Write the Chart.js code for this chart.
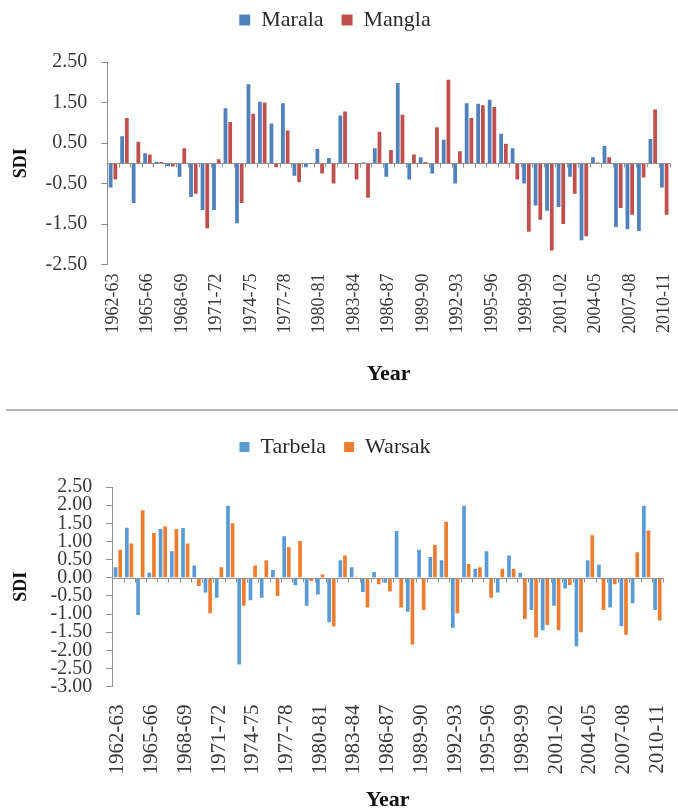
<!DOCTYPE html>
<html>
<head>
<meta charset="utf-8">
<script src="https://cdn.jsdelivr.net/npm/chart.js@4.4.1/dist/chart.umd.min.js"></script>
<style>
    html, body { margin: 0; padding: 0; background: #fff; }
    body { width: 678px; height: 809px; position: relative; overflow: hidden; }
    .box { position: absolute; left: 0; width: 678px; }
    #topBox { top: -9px; height: 414px; }
    #bottomBox { top: 412px; height: 402px; }
    #rule { position: absolute; left: 6px; width: 672px; top: 409px; border-top: 2px solid #b4b4b4; }
</style>
</head>
<body>
<div class="box" id="topBox"><canvas id="chartTop"></canvas></div>
<div id="rule"></div>
<div class="box" id="bottomBox"><canvas id="chartBottom"></canvas></div>

<script>
// categories (hydrological years)
const years = [
    '1962-63', '1963-64', '1964-65', '1965-66', '1966-67', '1967-68', '1968-69',
    '1969-70', '1970-71', '1971-72', '1972-73', '1973-74', '1974-75', '1975-76',
    '1976-77', '1977-78', '1978-79', '1979-80', '1980-81', '1981-82', '1982-83',
    '1983-84', '1984-85', '1985-86', '1986-87', '1987-88', '1988-89', '1989-90',
    '1990-91', '1991-92', '1992-93', '1993-94', '1994-95', '1995-96', '1996-97',
    '1997-98', '1998-99', '1999-00', '2000-01', '2001-02', '2002-03', '2003-04',
    '2004-05', '2005-06', '2006-07', '2007-08', '2008-09', '2009-10', '2010-11'
];
// only these year labels are printed under the axis
const shownYears = [
    '1962-63', '1965-66', '1968-69', '1971-72', '1974-75', '1977-78', '1980-81',
    '1983-84', '1986-87', '1989-90', '1992-93', '1995-96', '1998-99', '2001-02',
    '2004-05', '2007-08', '2010-11'
];

// SDI values
const marala = [
    -0.60, 0.67, -0.98, 0.25, 0.04, -0.07, -0.33, -0.83, -1.15, -1.15,
    1.36, -1.48, 1.95, 1.52, 0.98, 1.48, -0.31, -0.10, 0.35, 0.13,
    1.18, 0.01, 0.02, 0.37, -0.33, 1.98, -0.40, 0.15, -0.25, 0.58,
    -0.50, 1.48, 1.47, 1.57, 0.73, 0.37, -0.50, -1.04, -1.17, -1.08,
    -0.33, -1.90, 0.15, 0.43, -1.57, -1.63, -1.67, 0.60, -0.60
];
const mangla = [
    -0.40, 1.12, 0.53, 0.22, 0.03, -0.08, 0.37, -0.75, -1.60, 0.10,
    1.02, -0.98, 1.22, 1.50, -0.10, 0.81, -0.47, -0.02, -0.25, -0.50,
    1.28, -0.40, -0.85, 0.78, 0.33, 1.20, 0.22, 0.03, 0.89, 2.06,
    0.30, 1.12, 1.43, 1.39, 0.48, -0.40, -1.69, -1.39, -2.15, -1.50,
    -0.75, -1.80, 0.02, 0.15, -1.10, -1.27, -0.35, 1.33, -1.27
];
const tarbela = [
    0.29, 1.38, -1.03, 0.14, 1.34, 0.73, 1.37, 0.34, -0.41, -0.55,
    1.98, -2.39, -0.62, -0.55, 0.21, 1.14, -0.21, -0.77, -0.46, -1.23,
    0.48, 0.29, -0.39, 0.16, -0.14, 1.29, -0.94, 0.77, 0.57, 0.48,
    -1.38, 1.98, 0.25, 0.73, -0.41, 0.61, 0.14, -0.89, -1.45, -0.77,
    -0.30, -1.89, 0.48, 0.36, -0.82, -1.34, -0.70, 1.98, -0.89
];
const warsak = [
    0.77, 0.94, 1.86, 1.23, 1.41, 1.34, 0.94, -0.23, -0.98, 0.29,
    1.50, -0.77, 0.34, 0.48, -0.50, 0.85, 1.01, -0.09, 0.09, -1.34,
    0.61, 0.03, -0.82, -0.18, -0.38, -0.82, -1.84, -0.89, 0.90, 1.54,
    -0.98, 0.38, 0.29, -0.55, 0.25, 0.25, -1.14, -1.65, -1.30, -1.45,
    -0.20, -1.50, 1.17, -0.89, -0.18, -1.57, 0.70, 1.30, -1.18
];

// y axis tick labels
const yTicksTop = [2.5, 1.5, 0.5, -0.5, -1.5, -2.5];
const yTicksBottom = [2.5, 2.0, 1.5, 1.0, 0.5, 0.0, -0.5, -1.0, -1.5, -2.0, -2.5, -3.0];

const serif = "'Liberation Serif', 'DejaVu Serif', serif";
const textColor = '#383838';
const axisColor = '#8f8f8f';

// category axis drawn through zero, with small ticks between the years
const zeroAxis = {
    id: 'zeroAxis',
    afterDatasetsDraw(chart) {
        const { ctx, chartArea, scales: { x, y } } = chart;
        const y0 = Math.round(y.getPixelForValue(0)) + 0.5;
        const step = x.getPixelForValue(1) - x.getPixelForValue(0);
        ctx.save();
        ctx.strokeStyle = axisColor;
        ctx.lineWidth = 1;
        ctx.beginPath();
        ctx.moveTo(chartArea.left, y0);
        ctx.lineTo(chartArea.right, y0);
        for (let i = 0; i <= years.length; i++) {
            const px = Math.round(x.getPixelForValue(i) - step / 2) + 0.5;
            ctx.moveTo(px, y0);
            ctx.lineTo(px, y0 + 4);
        }
        ctx.stroke();
        ctx.restore();
    }
};

// extra room between the legend and the plot
const legendGap = {
    id: 'legendGap',
    beforeInit(chart, args, opts) {
        const fit = chart.legend.fit;
        chart.legend.fit = function () {
            fit.call(this);
            this.height += opts.gap || 0;
        };
    }
};

function makeChart(id, series, yTicks, sizes) {
    return new Chart(document.getElementById(id), {
        type: 'bar',
        data: {
            labels: years,
            datasets: series.map(s => ({
                label: s.name,
                data: s.values,
                backgroundColor: s.color,
                borderWidth: 0,
                barPercentage: 0.8,
                categoryPercentage: 0.82,
            })),
        },
        plugins: [zeroAxis, legendGap],
        options: {
            animation: false,
            maintainAspectRatio: false,
            layout: { padding: { top: sizes.padTop, right: 8, left: 0, bottom: 0 } },
            plugins: {
                tooltip: { enabled: false },
                legendGap: { gap: sizes.gap },
                legend: {
                    position: 'top',
                    labels: {
                        boxWidth: sizes.box,
                        boxHeight: sizes.box,
                        padding: 18,
                        color: '#2a2a2a',
                        font: { family: serif, size: 22 },
                    },
                },
            },
            scales: {
                x: {
                    grid: { display: false },
                    border: { display: false },
                    ticks: {
                        autoSkip: false,
                        maxRotation: 90,
                        minRotation: 90,
                        padding: sizes.xPad,
                        color: textColor,
                        font: { family: serif, size: sizes.xFont, lineHeight: 0.5 },
                        callback: function (v) {
                            const l = this.getLabelForValue(v);
                            return shownYears.includes(l) ? l : '';
                        },
                    },
                    title: {
                        display: true,
                        text: 'Year',
                        color: '#111',
                        font: { family: serif, size: 22, weight: 'bold' },
                        padding: sizes.xTitlePad,
                    },
                },
                y: {
                    min: yTicks[yTicks.length - 1],
                    max: yTicks[0],
                    afterBuildTicks: axis => { axis.ticks = yTicks.map(v => ({ value: v })); },
                    grid: { drawOnChartArea: false, tickLength: 6, tickColor: axisColor },
                    border: { color: axisColor },
                    ticks: {
                        autoSkip: false,
                        padding: 14,
                        color: textColor,
                        font: { family: serif, size: sizes.yFont, lineHeight: 1 },
                        callback: v => v.toFixed(2),
                    },
                    title: {
                        display: true,
                        text: 'SDI',
                        color: '#111',
                        font: { family: serif, size: 18, weight: 'bold' },
                        padding: sizes.yTitlePad,
                    },
                },
            },
        },
    });
}

makeChart('chartTop', [
    { name: 'Marala', values: marala, color: '#4f81bd' },
    { name: 'Mangla', values: mangla, color: '#c0504d' },
], yTicksTop, {
    padTop: 0, gap: 21, box: 11, xFont: 18, yFont: 20, xPad: 1,
    xTitlePad: { top: 27, bottom: 17 }, yTitlePad: { top: 11, bottom: -1 },
});

makeChart('chartBottom', [
    { name: 'Tarbela', values: tarbela, color: '#5b9bd5' },
    { name: 'Warsak', values: warsak, color: '#ed7d31' },
], yTicksBottom, {
    padTop: 6, gap: 19, box: 10, xFont: 21, yFont: 20, xPad: 10,
    xTitlePad: { top: 3, bottom: 0 }, yTitlePad: { top: 11, bottom: 4 },
});
</script>
</body>
</html>
